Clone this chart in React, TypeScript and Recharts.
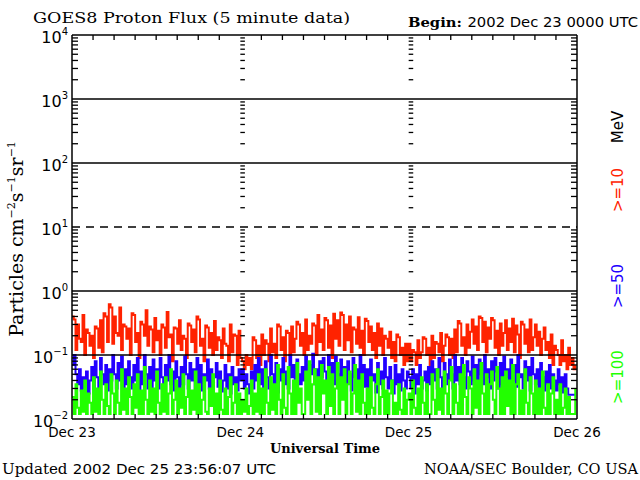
import React from 'react';
import { ComposedChart, Line, XAxis, YAxis, ReferenceLine } from 'recharts';

// >=10 MeV proton flux, 15-minute samples, Dec 23 00:00 .. Dec 25 23:45 UTC
const red10 = [
  0.40,0.36,0.12,0.30,0.18,0.16,0.42,0.10,0.25,0.22,0.14,0.20,
  0.09,0.28,0.26,0.13,0.35,0.11,0.45,0.40,0.16,0.62,0.55,0.15,
  0.40,0.22,0.20,0.55,0.12,0.30,0.28,0.18,0.26,0.10,0.45,0.42,
  0.16,0.22,0.09,0.33,0.30,0.20,0.50,0.14,0.28,0.25,0.11,0.38,
  0.17,0.24,0.10,0.30,0.27,0.13,0.47,0.19,0.21,0.08,0.27,0.26,
  0.15,0.35,0.12,0.20,0.18,0.09,0.31,0.29,0.16,0.25,0.11,0.40,
  0.36,0.14,0.18,0.08,0.29,0.27,0.13,0.22,0.10,0.34,0.12,0.19,
  0.17,0.09,0.26,0.15,0.14,0.08,0.30,0.11,0.21,0.20,0.07,0.24,
  0.09,0.08,0.06,0.10,0.07,0.09,0.06,0.19,0.17,0.09,0.14,0.07,
  0.21,0.10,0.17,0.15,0.08,0.26,0.11,0.15,0.09,0.30,0.28,0.12,
  0.19,0.08,0.24,0.22,0.10,0.28,0.11,0.18,0.33,0.30,0.14,0.22,
  0.10,0.36,0.12,0.20,0.15,0.31,0.29,0.10,0.42,0.16,0.25,0.12,
  0.38,0.35,0.13,0.29,0.09,0.44,0.18,0.35,0.14,0.46,0.42,0.12,
  0.30,0.17,0.40,0.11,0.27,0.25,0.15,0.39,0.13,0.24,0.10,0.37,
  0.34,0.16,0.28,0.12,0.22,0.09,0.31,0.14,0.26,0.10,0.20,0.18,
  0.13,0.23,0.09,0.16,0.08,0.21,0.19,0.10,0.13,0.07,0.15,0.08,
  0.15,0.08,0.12,0.11,0.07,0.17,0.09,0.11,0.19,0.18,0.10,0.13,
  0.07,0.20,0.09,0.16,0.15,0.11,0.22,0.08,0.14,0.21,0.19,0.10,
  0.18,0.09,0.25,0.11,0.34,0.31,0.14,0.19,0.10,0.30,0.13,0.23,
  0.36,0.15,0.28,0.12,0.40,0.38,0.16,0.33,0.11,0.27,0.18,0.38,
  0.35,0.13,0.24,0.10,0.31,0.14,0.22,0.35,0.12,0.26,0.16,0.37,
  0.11,0.29,0.21,0.09,0.33,0.30,0.15,0.25,0.11,0.36,0.12,0.19,
  0.30,0.14,0.23,0.10,0.18,0.27,0.12,0.16,0.09,0.21,0.07,0.14,
  0.12,0.10,0.07,0.17,0.08,0.10,0.06,0.13,0.07,0.09,0.06,0.07,
];

// >=50 MeV
const blue50 = [
  0.07,0.10,0.05,0.035,0.06,0.028,0.045,0.03,0.055,0.025,0.04,0.065,
  0.03,0.08,0.045,0.025,0.09,0.05,0.035,0.07,0.028,0.06,0.04,0.10,
  0.05,0.03,0.075,0.04,0.095,0.026,0.06,0.035,0.08,0.045,0.03,0.07,
  0.04,0.09,0.028,0.055,0.035,0.10,0.05,0.03,0.065,0.024,0.085,0.04,
  0.06,0.03,0.09,0.045,0.025,0.07,0.04,0.10,0.035,0.055,0.028,0.08,
  0.045,0.025,0.065,0.035,0.095,0.05,0.03,0.075,0.04,0.06,0.026,0.09,
  0.035,0.07,0.028,0.05,0.04,0.085,0.03,0.06,0.024,0.045,0.075,0.032,
  0.055,0.027,0.04,0.07,0.03,0.05,0.025,0.065,0.035,0.045,0.028,0.06,
  0.04,0.06,0.03,0.05,0.035,0.025,0.055,0.03,0.07,0.04,0.09,0.035,
  0.06,0.028,0.08,0.045,0.03,0.10,0.05,0.035,0.075,0.026,0.06,0.04,
  0.09,0.035,0.055,0.03,0.10,0.045,0.07,0.028,0.085,0.05,0.035,0.065,
  0.04,0.095,0.03,0.07,0.05,0.105,0.035,0.06,0.028,0.08,0.045,0.09,
  0.055,0.03,0.10,0.04,0.075,0.035,0.095,0.05,0.03,0.085,0.04,0.065,
  0.035,0.08,0.05,0.028,0.09,0.045,0.06,0.03,0.10,0.04,0.07,0.032,
  0.06,0.03,0.085,0.04,0.05,0.026,0.075,0.035,0.055,0.03,0.09,0.045,
  0.03,0.065,0.04,0.025,0.07,0.035,0.05,0.028,0.06,0.04,0.03,0.055,
  0.045,0.03,0.06,0.025,0.05,0.035,0.07,0.03,0.04,0.055,0.028,0.065,
  0.035,0.08,0.04,0.06,0.03,0.09,0.045,0.028,0.075,0.05,0.035,0.085,
  0.05,0.03,0.10,0.04,0.065,0.035,0.09,0.045,0.03,0.08,0.055,0.035,
  0.095,0.04,0.07,0.03,0.085,0.05,0.035,0.10,0.045,0.06,0.03,0.08,
  0.04,0.09,0.055,0.03,0.075,0.035,0.095,0.045,0.06,0.028,0.085,0.04,
  0.07,0.032,0.10,0.045,0.05,0.03,0.08,0.04,0.065,0.028,0.09,0.05,
  0.035,0.06,0.03,0.075,0.045,0.028,0.055,0.035,0.07,0.03,0.05,0.04,
  0.028,0.06,0.035,0.045,0.026,0.05,0.03,0.024,0.024,0.024,0.024,0.024,
];

// >=100 MeV
const green100 = [
  0.022,0.012,0.035,0.015,0.012,0.028,0.013,0.04,0.012,0.025,0.018,0.012,
  0.045,0.013,0.03,0.012,0.055,0.02,0.012,0.035,0.016,0.012,0.05,0.025,
  0.012,0.04,0.018,0.012,0.06,0.014,0.03,0.012,0.045,0.022,0.012,0.035,
  0.015,0.05,0.012,0.028,0.012,0.065,0.02,0.012,0.04,0.013,0.03,0.012,
  0.055,0.018,0.012,0.035,0.013,0.045,0.012,0.025,0.06,0.012,0.02,0.04,
  0.012,0.03,0.015,0.05,0.012,0.022,0.04,0.012,0.028,0.014,0.055,0.012,
  0.035,0.012,0.02,0.045,0.013,0.012,0.03,0.016,0.05,0.012,0.025,0.012,
  0.04,0.014,0.012,0.03,0.012,0.022,0.045,0.012,0.018,0.035,0.012,0.025,
  0.012,0.02,0.013,0.03,0.012,0.016,0.04,0.012,0.025,0.013,0.05,0.012,
  0.03,0.012,0.06,0.018,0.012,0.045,0.014,0.035,0.012,0.07,0.02,0.012,
  0.05,0.015,0.012,0.065,0.025,0.012,0.04,0.012,0.075,0.018,0.03,0.012,
  0.012,0.055,0.02,0.08,0.012,0.035,0.06,0.013,0.045,0.012,0.07,0.025,
  0.04,0.012,0.065,0.016,0.05,0.012,0.03,0.075,0.012,0.045,0.02,0.06,
  0.012,0.035,0.055,0.012,0.025,0.07,0.013,0.04,0.012,0.05,0.018,0.012,
  0.03,0.012,0.045,0.015,0.012,0.035,0.06,0.012,0.022,0.04,0.012,0.028,
  0.012,0.025,0.04,0.012,0.018,0.012,0.035,0.014,0.012,0.03,0.012,0.02,
  0.025,0.012,0.04,0.015,0.012,0.03,0.012,0.045,0.018,0.012,0.035,0.012,
  0.012,0.05,0.02,0.012,0.06,0.014,0.03,0.012,0.055,0.025,0.012,0.04,
  0.065,0.012,0.035,0.018,0.012,0.05,0.012,0.07,0.022,0.012,0.045,0.03,
  0.012,0.06,0.015,0.04,0.012,0.075,0.025,0.012,0.05,0.012,0.035,0.055,
  0.02,0.012,0.065,0.03,0.012,0.045,0.012,0.055,0.016,0.04,0.012,0.07,
  0.012,0.035,0.05,0.012,0.028,0.012,0.06,0.018,0.012,0.045,0.025,0.012,
  0.04,0.012,0.03,0.012,0.055,0.015,0.012,0.035,0.012,0.025,0.045,0.012,
  0.02,0.012,0.035,0.012,0.015,0.03,0.012,0.022,0.012,0.012,0.012,0.03,
];

const sampleHours = 0.25;
const dayTicks = [0, 24, 48, 72];
const dayLabels = ['Dec 23', 'Dec 24', 'Dec 25', 'Dec 26'];
const hourTicks = [0, 3, 6, 9, 12, 15, 18, 21, 24, 27, 30, 33, 36, 39, 42, 45, 48, 51, 54, 57, 60, 63, 66, 69, 72];
const decades = [0.01, 0.1, 1, 10, 100, 1000, 10000];
const decadeExps = ['−2', '−1', '0', '1', '2', '3', '4'];
const solidGrid = [0.1, 1, 100, 1000];
const dashedGrid = [10];
const minorMult = [2, 3, 4, 5, 6, 7, 8, 9];
const innerDayColumns = [24, 48];

const minorTicks: number[] = [];
decades.slice(0, -1).forEach((d) => minorMult.forEach((m) => minorTicks.push(+(d * m).toPrecision(3))));
const allYTicks = [...decades, ...minorTicks].sort((a, b) => a - b);

const data = red10.map((v, i) => ({ t: i * sampleHours, p10: v, p50: blue50[i], p100: green100[i] }));

const isDecade = (v: number) => decades.some((d) => Math.abs(d - v) / d < 1e-6);

const LeftTick = (props: any) => {
  const { x, y, payload } = props;
  const v = payload.value;
  if (isDecade(v)) {
    const idx = decades.findIndex((d) => Math.abs(d - v) / d < 1e-6);
    return (
      <text x={x - 4} y={y + 8} textAnchor="end" fontFamily="DejaVu Sans" fontSize={16} fill="#000">
        10<tspan dy={-8} fontSize={10}>{decadeExps[idx]}</tspan>
      </text>
    );
  }
  return <line x1={x} x2={x + 6} y1={y} y2={y} stroke="#000" strokeWidth={1.3} />;
};

const RightTick = (props: any) => {
  const { x, y, payload } = props;
  if (isDecade(payload.value)) return <g />;
  return <line x1={x} x2={x - 6} y1={y} y2={y} stroke="#000" strokeWidth={1.3} />;
};

const BottomTick = (props: any) => {
  const { x, y, payload } = props;
  const v = payload.value;
  const di = dayTicks.indexOf(v);
  return (
    <g>
      {di < 0 && <line x1={x} x2={x} y1={y} y2={y - 5} stroke="#000" strokeWidth={1.3} />}
      {di >= 0 && (
        <text x={x} y={y + 18} textAnchor="middle" fontFamily="DejaVu Sans" fontSize={13.5} fill="#000">
          {dayLabels[di]}
        </text>
      )}
    </g>
  );
};

const TopTick = (props: any) => {
  const { x, y, payload } = props;
  if (dayTicks.indexOf(payload.value) >= 0) return <g />;
  return <line x1={x} x2={x} y1={y} y2={y + 5} stroke="#000" strokeWidth={1.3} />;
};

export default function App() {
  return (
    <div style={{ position: 'absolute', left: 0, top: 0, width: 640, height: 480, background: '#fff' }}>
      <ComposedChart width={640} height={480} data={data} margin={{ top: 0, right: 0, bottom: 0, left: 0 }}>
        <XAxis xAxisId="b" dataKey="t" type="number" domain={[0, 72]} ticks={hourTicks} interval={0}
          tickSize={0} tickMargin={0} height={61} allowDataOverflow tickLine={false}
          axisLine={{ stroke: '#000', strokeWidth: 1.5 }} tick={BottomTick} />
        <XAxis xAxisId="top" orientation="top" dataKey="t" type="number" domain={[0, 72]} ticks={hourTicks} interval={0}
          tickSize={0} tickMargin={0} height={35} allowDataOverflow tickLine={false}
          axisLine={{ stroke: '#000', strokeWidth: 1.5 }} tick={TopTick} />
        <YAxis yAxisId="l" type="number" scale="log" domain={[0.01, 10000]} ticks={allYTicks} interval={0}
          width={72} tickSize={0} tickMargin={0} allowDataOverflow tickLine={false}
          axisLine={{ stroke: '#000', strokeWidth: 1.5 }} tick={LeftTick} />
        <YAxis yAxisId="r" orientation="right" type="number" scale="log" domain={[0.01, 10000]} ticks={allYTicks} interval={0}
          width={63} tickSize={0} tickMargin={0} allowDataOverflow tickLine={false}
          axisLine={{ stroke: '#000', strokeWidth: 1.5 }} tick={RightTick} />
        <Line xAxisId="b" yAxisId="l" dataKey="p10" type="stepAfter" stroke="#ff2200" strokeWidth={2} dot={false} isAnimationActive={false} />
        <Line xAxisId="b" yAxisId="l" dataKey="p50" type="stepAfter" stroke="#2200ff" strokeWidth={2} dot={false} isAnimationActive={false} />
        <Line xAxisId="b" yAxisId="l" dataKey="p100" type="stepAfter" stroke="#22ff00" strokeWidth={2} dot={false} isAnimationActive={false} />
        {solidGrid.map((v) => (
          <ReferenceLine key={'g' + v} xAxisId="b" yAxisId="l" y={v} stroke="#000" strokeWidth={1.5} />
        ))}
        {dashedGrid.map((v) => (
          <ReferenceLine key={'d' + v} xAxisId="b" yAxisId="l" y={v} stroke="#000" strokeWidth={1.5} strokeDasharray="8 6" />
        ))}
        {innerDayColumns.map((d) =>
          minorTicks.map((v) => (
            <ReferenceLine key={'c' + d + '_' + v} xAxisId="b" yAxisId="l" stroke="#000" strokeWidth={1.3}
              segment={[{ x: d, y: v }, { x: d + 0.65, y: v }]} />
          ))
        )}
      </ComposedChart>
      <svg width={640} height={480} style={{ position: 'absolute', left: 0, top: 0, pointerEvents: 'none' }}>
        <text x={33} y={23} fontFamily="DejaVu Serif" fontSize={14.5} fill="#000" textLength={317} lengthAdjust="spacingAndGlyphs">
          GOES8 Proton Flux (5 minute data)
        </text>
        <text x={408} y={27} fontFamily="DejaVu Serif" fontWeight="bold" fontSize={13.5} fill="#000" textLength={230} lengthAdjust="spacingAndGlyphs">
          Begin:<tspan fontFamily="DejaVu Sans" fontWeight="normal" dx={5}>2002 Dec 23 0000 UTC</tspan>
        </text>
        <text transform="translate(23,239) rotate(-90)" x={0} y={0} textAnchor="middle" fontFamily="DejaVu Serif" fontSize={19} fill="#000">
          Particles cm<tspan dy={-8} fontSize={11}>−2</tspan><tspan dy={8}>s</tspan><tspan dy={-8} fontSize={11}>−1</tspan><tspan dy={8}>sr</tspan><tspan dy={-8} fontSize={11}>−1</tspan>
        </text>
        <text transform="translate(623,127) rotate(-90)" textAnchor="middle" fontFamily="DejaVu Sans" fontSize={15} fill="#000">MeV</text>
        <text transform="translate(623,190) rotate(-90)" textAnchor="middle" fontFamily="DejaVu Sans" fontSize={15} fill="#ff2200">&gt;=10</text>
        <text transform="translate(623,286) rotate(-90)" textAnchor="middle" fontFamily="DejaVu Sans" fontSize={15} fill="#2200ff">&gt;=50</text>
        <text transform="translate(623,377) rotate(-90)" textAnchor="middle" fontFamily="DejaVu Sans" fontSize={15} fill="#22ff00">&gt;=100</text>
        <text x={325} y={453} textAnchor="middle" fontFamily="DejaVu Serif" fontWeight="bold" fontSize={13} fill="#000">Universal Time</text>
        <text x={2} y={474} fontFamily="DejaVu Serif" fontSize={14} fill="#000" textLength={274} lengthAdjust="spacingAndGlyphs">
          Updated<tspan fontFamily="DejaVu Sans" dx={5}>2002 Dec 25 23:56:07 UTC</tspan>
        </text>
        <text x={638} y={474} textAnchor="end" fontFamily="DejaVu Serif" fontSize={14} fill="#000" textLength={214} lengthAdjust="spacingAndGlyphs">NOAA/SEC Boulder, CO USA</text>
      </svg>
    </div>
  );
}
